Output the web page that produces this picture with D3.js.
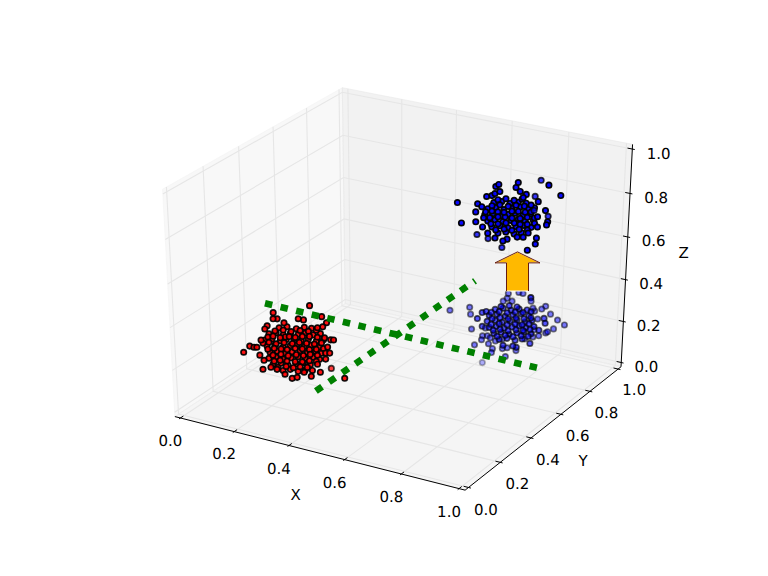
<!DOCTYPE html>
<html>
<head>
<meta charset="utf-8">
<script src="https://cdn.jsdelivr.net/npm/d3@7"></script>
<style>
    html, body { margin: 0; padding: 0; background: #fff; }
    text { font-family: "DejaVu Sans", sans-serif; fill: #000; text-rendering: geometricPrecision; }
</style>
</head>
<body>
<div id="chart"></div>
<script>
var tickValues = [0, 0.2, 0.4, 0.6, 0.8, 1];
var axisNames = ["X", "Y", "Z"];

// x, y, z of every point
var redPoints = [
    [.263,.157,.392],[.284,.169,.397],[.309,.183,.388],[.330,.196,.394],[.349,.207,.389],
    [.242,.131,.371],[.261,.142,.376],[.280,.153,.367],[.299,.164,.373],[.320,.176,.369],[.339,.187,.375],[.360,.199,.366],[.379,.210,.372],
    [.237,.114,.350],[.256,.125,.355],[.278,.138,.346],[.294,.147,.352],[.315,.159,.357],[.334,.170,.348],[.353,.181,.354],[.374,.194,.345],[.393,.205,.351],
    [.249,.107,.329],[.270,.119,.334],[.292,.132,.325],[.311,.143,.331],[.329,.154,.336],[.348,.165,.327],[.367,.175,.333],[.389,.188,.324],
    [.263,.101,.308],[.282,.112,.313],[.303,.124,.304],[.322,.135,.310],[.343,.148,.315],[.362,.159,.306],[.384,.171,.312],[.400,.181,.303],
    [.266,.089,.287],[.285,.100,.292],[.304,.111,.283],[.325,.123,.289],[.344,.134,.294],[.363,.145,.285],[.384,.158,.291],[.401,.167,.282],
    [.283,.085,.266],[.304,.097,.271],[.323,.108,.262],[.345,.121,.268],[.364,.132,.273],[.382,.143,.264],
    [.316,.090,.245],[.335,.101,.250],[.356,.113,.241],[.375,.124,.247],
    [.289,.124,.319],[.327,.145,.322],[.365,.167,.316],[.288,.151,.360],[.334,.177,.363],[.317,.112,.277],[.358,.135,.274],
    [.255,.145,.381],[.277,.158,.385],[.298,.170,.378],[.322,.184,.383],[.344,.197,.379],[.365,.209,.384],
    [.242,.124,.360],[.256,.132,.364],[.275,.143,.357],[.299,.157,.362],[.315,.166,.358],[.353,.188,.363],[.374,.200,.359],[.393,.211,.356],
    [.235,.106,.339],[.251,.115,.343],[.270,.126,.336],[.291,.139,.341],[.313,.151,.337],[.332,.162,.342],[.351,.173,.338],[.372,.185,.335],[.391,.196,.340],
    [.254,.103,.318],[.271,.113,.322],[.305,.133,.316],[.346,.156,.320],[.383,.178,.317],[.402,.189,.321],
    [.274,.100,.298],[.295,.113,.302],[.314,.124,.295],[.336,.136,.300],[.355,.147,.296],[.373,.158,.301],[.392,.169,.297],
    [.283,.092,.277],[.299,.101,.281],[.339,.124,.275],[.377,.146,.279],[.395,.157,.276],
    [.299,.087,.256],[.321,.100,.260],[.340,.111,.254],[.358,.122,.258],[.377,.133,.255],
    [.322,.242,.468],[.232,.174,.444],[.249,.169,.423],[.238,.163,.423],[.229,.142,.399],[.226,.133,.388],[.271,.173,.409],
    [.320,.208,.419],[.305,.202,.423],[.365,.242,.430],[.384,.239,.409],[.378,.226,.395],[.365,.216,.392],[.412,.216,.350],
    [.420,.220,.350],[.411,.199,.325],[.412,.185,.305],[.423,.191,.305],[.418,.175,.284],[.401,.154,.266],[.394,.135,.245],
    [.397,.123,.225],[.417,.144,.239],[.398,.240,.199],[.488,.171,.218],[.193,.060,.308],[.203,.080,.329],[.215,.085,.325],
    [.223,.089,.325],[.227,.108,.350],[.239,.080,.298],[.255,.078,.280],[.261,.061,.249],[.280,.077,.256],[.299,.082,.249],
    [.325,.086,.232],[.348,.090,.218],[.360,.100,.221],[.374,.119,.239]
];

var blueTopPoints = [
    [.719,.688,.832],[.740,.700,.837],[.762,.713,.828],[.784,.725,.834],[.805,.738,.829],
    [.709,.668,.811],[.730,.681,.816],[.752,.693,.807],[.773,.705,.813],[.795,.718,.818],[.816,.731,.809],[.833,.740,.815],
    [.707,.653,.790],[.728,.665,.795],[.750,.678,.786],[.769,.689,.792],[.787,.700,.797],[.809,.712,.788],[.828,.723,.794],
    [.721,.647,.769],[.740,.658,.774],[.761,.671,.765],[.783,.683,.771],[.802,.694,.776],[.820,.705,.767],[.842,.717,.773],
    [.738,.643,.748],[.759,.656,.753],[.781,.668,.744],[.802,.680,.750],[.821,.691,.755],[.842,.704,.746],
    [.760,.642,.727],[.781,.654,.732],[.803,.667,.723],[.822,.678,.729],
    [.739,.678,.800],[.776,.700,.803],[.811,.721,.798],[.723,.656,.780],[.764,.679,.783],[.804,.702,.777],
    [.751,.658,.759],[.794,.683,.762],[.829,.703,.757],
    [.727,.699,.842],[.748,.712,.846],[.770,.724,.839],[.791,.737,.844],
    [.717,.680,.821],[.738,.692,.825],[.760,.705,.818],[.781,.717,.823],[.803,.730,.819],[.821,.740,.824],
    [.706,.660,.800],[.723,.669,.804],[.755,.688,.798],[.793,.710,.802],[.827,.730,.799],
    [.707,.646,.780],[.745,.668,.784],[.782,.690,.778],[.823,.713,.782],[.842,.724,.779],
    [.732,.647,.759],[.772,.670,.763],[.810,.692,.757],[.848,.714,.761],
    [.751,.644,.738],[.773,.657,.742],[.794,.669,.736],[.813,.680,.740],[.835,.693,.737],
    [.622,.632,.832],[.653,.603,.762],[.664,.684,.674],[.690,.627,.766],[.680,.644,.800],[.677,.661,.828],[.691,.662,.818],
    [.694,.687,.853],[.707,.697,.856],[.713,.705,.863],[.708,.719,.887],[.714,.727,.894],[.724,.716,.870],[.763,.748,.884],
    [.764,.760,.901],[.778,.748,.870],[.797,.752,.860],[.792,.742,.849],[.782,.841,.806],[.836,.758,.835],[.782,.878,.862],
    [.856,.787,.901],[.890,.803,.856],[.864,.754,.804],[.837,.826,.737],[.881,.738,.766],[.881,.731,.755],[.793,.815,.757],
    [.849,.731,.783],[.859,.713,.748],[.867,.693,.710],[.870,.681,.689],[.855,.658,.668],[.815,.665,.713],[.744,.700,.629],
    [.790,.646,.706],[.781,.636,.700],[.757,.629,.710],[.698,.694,.660],[.733,.626,.727],[.713,.629,.748],[.840,.689,.727],
    [.831,.674,.713]
];

var blueBottomPoints = [
    [.656,.659,.346],[.605,.623,.335],[.665,.649,.321],[.721,.591,.347],[.728,.609,.368],[.738,.617,.372],[.742,.585,.320],
    [.683,.624,.269],[.720,.629,.245],[.721,.621,.231],[.733,.637,.245],[.707,.601,.213],[.744,.625,.217],[.760,.622,.200],
    [.761,.614,.186],[.698,.672,.087],[.803,.629,.172],[.787,.638,.200],[.799,.647,.203],[.826,.656,.193],[.855,.602,.246],
    [.888,.630,.260],[.858,.707,.241],[.873,.718,.245],[.889,.734,.255],[.893,.739,.259],[.906,.754,.269],[.932,.778,.283],
    [.908,.776,.300],[.883,.775,.321],[.862,.781,.349],[.854,.770,.339],[.837,.755,.332],[.901,.696,.347],[.909,.689,.330],
    [.899,.667,.306],[.747,.745,.394],[.775,.763,.398],[.787,.768,.394],[.872,.658,.455],[.817,.767,.367],[.749,.734,.377],
    [.765,.737,.367],[.741,.723,.367],
    [.743,.638,.238],[.760,.641,.227],[.777,.655,.234],[.838,.691,.234],[.854,.721,.266],[.853,.746,.304],[.829,.758,.342],[.720,.648,.273],
    [.760,.635,.379],[.781,.648,.384],[.803,.660,.375],[.825,.672,.381],[.846,.685,.376],
    [.750,.615,.358],[.771,.627,.363],[.793,.640,.354],[.814,.652,.360],[.836,.665,.365],[.857,.677,.356],
    [.750,.602,.337],[.772,.614,.342],[.791,.625,.333],[.812,.637,.339],[.831,.648,.344],[.853,.661,.335],[.871,.672,.341],
    [.762,.594,.316],[.781,.605,.321],[.802,.618,.312],[.824,.630,.318],[.843,.641,.323],[.861,.652,.314],[.883,.664,.320],
    [.781,.591,.295],[.800,.602,.300],[.822,.615,.291],[.843,.627,.297],[.862,.638,.302],[.881,.649,.293],
    [.801,.589,.274],[.822,.601,.279],[.844,.614,.270],[.863,.625,.276],
    [.817,.585,.253],[.844,.600,.250],
    [.773,.649,.389],[.795,.662,.393],[.816,.674,.387],
    [.752,.624,.368],[.774,.636,.372],[.795,.649,.366],[.817,.661,.370],[.838,.674,.367],[.860,.686,.371],
    [.761,.614,.347],[.782,.627,.351],[.804,.639,.345],[.825,.652,.349],[.847,.664,.346],[.866,.675,.350],
    [.764,.603,.326],[.786,.615,.330],[.807,.628,.324],[.829,.640,.328],[.848,.651,.325],[.866,.662,.329],
    [.776,.595,.306],[.794,.606,.310],[.816,.618,.304],[.837,.631,.308],[.856,.642,.305],[.875,.653,.309],
    [.792,.591,.285],[.814,.604,.289],[.835,.616,.283],[.857,.629,.287],[.876,.640,.284]
];

// the two dotted green lines, start and end
var lineOne = [[.154,.250,.425], [.954,.562,.200]];
var lineTwo = [[.379,.177,.120], [.697,.616,.503]];

// the arrow between the two blue clusters
var arrowPoints = [[.822,.664,.468], [.782,.732,.604]];

var width = 768;
var height = 576;

var svg = d3.select("#chart")
    .append("svg")
    .attr("width", width)
    .attr("height", height);

// same camera as a default mplot3d view
var elev = 30 * Math.PI / 180;
var azim = -60 * Math.PI / 180;
var dist = 10;

var viewN = [Math.cos(azim) * Math.cos(elev), Math.sin(azim) * Math.cos(elev), Math.sin(elev)];
var uLen = Math.sqrt(viewN[0] * viewN[0] + viewN[1] * viewN[1]);
var viewU = [-viewN[1] / uLen, viewN[0] / uLen, 0];
var viewV = [
    viewN[1] * viewU[2] - viewN[2] * viewU[1],
    viewN[2] * viewU[0] - viewN[0] * viewU[2],
    viewN[0] * viewU[1] - viewN[1] * viewU[0]
];

var xScale = d3.scaleLinear().domain([-0.095, 0.09]).range([96, 691]);
var yScale = d3.scaleLinear().domain([-0.095, 0.09]).range([518.4, 57.6]);

function dot(a, b) {
    return a[0] * b[0] + a[1] * b[1] + a[2] * b[2];
}

function depth(p) {
    return dot([p[0] - 0.5, p[1] - 0.5, p[2] - 0.5], viewN);
}

function project(p) {
    var rel = [p[0] - 0.5, p[1] - 0.5, p[2] - 0.5];
    var w = dist - dot(rel, viewN);
    return [xScale(dot(rel, viewU) / w), yScale(dot(rel, viewV) / w)];
}

var path = d3.line()
    .x(function (d) { return d[0]; })
    .y(function (d) { return d[1]; });

function line3d(points) {
    return path(points.map(project));
}

// the box is a little bigger than the 0-1 range
var delta = 1 / 12;
var lo = -delta / 4;
var hi = 1 + delta / 4;

var panes = [
    { fill: "rgb(242,242,242)", corners: [[lo, lo, lo], [lo, hi, lo], [lo, hi, hi], [lo, lo, hi]] },
    { fill: "rgb(230,230,230)", corners: [[lo, hi, lo], [hi, hi, lo], [hi, hi, hi], [lo, hi, hi]] },
    { fill: "rgb(236,236,236)", corners: [[lo, lo, lo], [hi, lo, lo], [hi, hi, lo], [lo, hi, lo]] }
];

svg.append("g").selectAll("path")
    .data(panes)
    .enter().append("path")
    .attr("d", function (d) { return line3d(d.corners) + "Z"; })
    .style("fill", function (d) { return d.fill; })
    .style("fill-opacity", 0.5)
    .style("stroke", function (d) { return d.fill; })
    .style("stroke-opacity", 0.5)
    .style("stroke-width", 1);

// grid lines on the three walls
var grid = svg.append("g")
    .style("fill", "none")
    .style("stroke", "#e6e6e6")
    .style("stroke-width", 1.1);

tickValues.forEach(function (t) {
    grid.append("path").attr("d", line3d([[t, lo, lo], [t, hi, lo], [t, hi, hi]]));
    grid.append("path").attr("d", line3d([[hi, t, lo], [lo, t, lo], [lo, t, hi]]));
    grid.append("path").attr("d", line3d([[lo, lo, t], [lo, hi, t], [hi, hi, t]]));
});

// axis lines and ticks
var axes = svg.append("g")
    .style("fill", "none")
    .style("stroke", "#000")
    .style("stroke-width", 1);

axes.append("path").attr("d", line3d([[lo, lo, lo], [hi, lo, lo]]));
axes.append("path").attr("d", line3d([[hi, lo, lo], [hi, hi, lo]]));
axes.append("path").attr("d", line3d([[hi, hi, lo], [hi, hi, hi]]));

var tickOut = 0.1 * delta;
var tickIn = 0.2 * delta;

tickValues.forEach(function (t) {
    axes.append("path").attr("d", line3d([[t, lo - tickOut, lo], [t, lo + tickIn, lo]]));
    axes.append("path").attr("d", line3d([[hi + tickOut, t, lo], [hi - tickIn, t, lo]]));
    axes.append("path").attr("d", line3d([[hi + tickOut, hi, t], [hi - tickIn, hi, t]]));
});

// tick labels
var labelPad = 0.0606;
var fmt = d3.format(".1f");

function addText(pos, str, nudge) {
    var p = project(pos);
    svg.append("text")
        .attr("x", p[0] + nudge[0])
        .attr("y", p[1] + nudge[1])
        .attr("text-anchor", "middle")
        .attr("dominant-baseline", "central")
        .style("font-size", "15px")
        .text(str);
}

tickValues.forEach(function (t) {
    addText([t, lo - labelPad, lo - labelPad], fmt(t), [0, 3]);
    addText([hi + labelPad, t, lo - labelPad], fmt(t), [0, 5]);
    addText([hi + labelPad, hi + labelPad, t], fmt(t), [0, 7]);
});

var nameOffset = 1.3 * delta;
addText([0.5, lo - nameOffset, lo - nameOffset], axisNames[0], [-3, 6]);
addText([hi + nameOffset, 0.5, lo - nameOffset], axisNames[1], [7, 5]);
addText([hi + nameOffset, hi + nameOffset, 0.5], axisNames[2], [11, -1]);

// points, further away means more see-through
var allPoints = redPoints.concat(blueTopPoints, blueBottomPoints);
var alpha = d3.scaleLinear()
    .domain(d3.extent(allPoints, depth))
    .range([0.3, 1]);

function scatter(points, color) {
    svg.append("g").selectAll("circle")
        .data(points)
        .enter().append("circle")
        .attr("cx", function (d) { return project(d)[0]; })
        .attr("cy", function (d) { return project(d)[1]; })
        .attr("r", 2.7)
        .style("fill", color)
        .style("stroke", "#000")
        .style("stroke-width", 1.7)
        .style("fill-opacity", function (d) { return alpha(depth(d)); })
        .style("stroke-opacity", function (d) { return alpha(depth(d)); });
}

scatter(redPoints, "#ff0000");
scatter(blueBottomPoints, "#0000ff");
scatter(blueTopPoints, "#0000ff");

// green dotted lines
[lineOne, lineTwo].forEach(function (pts) {
    svg.append("path")
        .attr("d", line3d(pts))
        .style("fill", "none")
        .style("stroke", "#008000")
        .style("stroke-width", 6.67)
        .style("stroke-dasharray", "7.5,8.5");
});

// arrow: fill first, then the outline, the bottom edge stays white
var arrowStart = project(arrowPoints[0]);
var arrowEnd = project(arrowPoints[1]);
var headLen = 11;
var headHalf = 22.5;
var stemHalf = 11;
var cx = (arrowStart[0] + arrowEnd[0]) / 2;

var arrowShape = [
    [cx - stemHalf, arrowStart[1]],
    [cx - stemHalf, arrowEnd[1] + headLen],
    [cx - headHalf, arrowEnd[1] + headLen],
    [cx, arrowEnd[1]],
    [cx + headHalf, arrowEnd[1] + headLen],
    [cx + stemHalf, arrowEnd[1] + headLen],
    [cx + stemHalf, arrowStart[1]]
];

svg.append("path")
    .attr("d", path(arrowShape) + "Z")
    .style("fill", "#ffb900")
    .style("stroke", "#fff")
    .style("stroke-width", 1);

svg.append("path")
    .attr("d", path(arrowShape))
    .style("fill", "none")
    .style("stroke", "#661c10")
    .style("stroke-width", 1);
</script>
</body>
</html>
